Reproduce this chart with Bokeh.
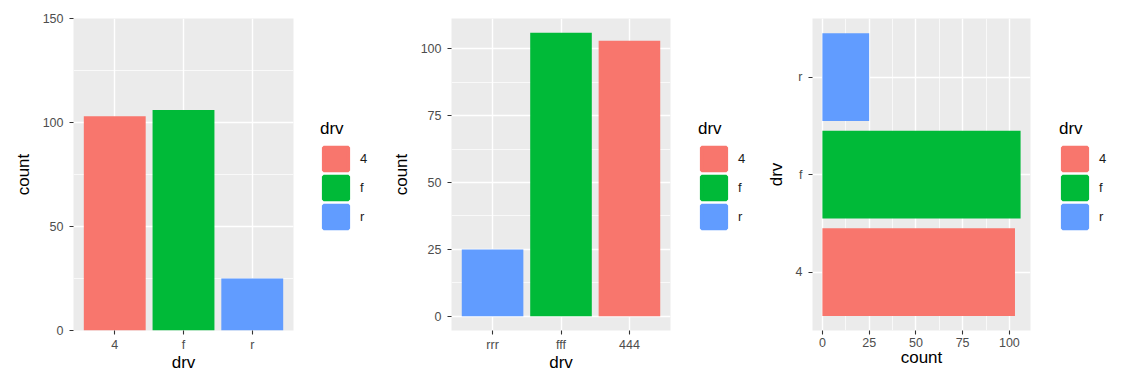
from bokeh.plotting import figure
from bokeh.models import (ColumnDataSource, Range1d, FixedTicker, SingleIntervalTicker,
                          Legend, LegendItem)
from bokeh.layouts import row
from bokeh.embed import file_html
from bokeh.resources import INLINE

# ---- data ----
drv_levels = ["4", "f", "r"]
drv_colors = ["#F8766D", "#00BA38", "#619CFF"]
drv_counts = [103, 106, 25]

# panel 2: relabelled / reordered x axis
p2_labels = ["rrr", "fff", "444"]
p2_drv = ["r", "f", "4"]
p2_counts = [25, 106, 103]

# panel 3: flipped (4 bottom, r top)
p3_levels = ["4", "f", "r"]
p3_counts = [103, 106, 25]

FONT = "Liberation Sans"
color_of = dict(zip(drv_levels, drv_colors))
H = 380


def style(p):
    p.background_fill_color = "#EBEBEB"
    p.border_fill_color = "white"
    p.outline_line_color = None
    for ax in [p.xaxis[0], p.yaxis[0]]:
        ax.axis_line_color = None
        ax.major_tick_line_color = "#333333"
        ax.major_tick_line_width = 1.1
        ax.major_tick_out = 4
        ax.major_tick_in = 0
        ax.minor_tick_line_color = None
        ax.major_label_text_color = "#4D4D4D"
        ax.major_label_text_font = FONT
        ax.major_label_text_font_size = "12.5px"
        ax.axis_label_text_font = FONT
        ax.axis_label_text_font_size = "17px"
        ax.axis_label_text_font_style = "normal"
        ax.axis_label_text_color = "black"
    p.xaxis[0].major_label_standoff = 3
    p.xaxis[0].axis_label_standoff = -2
    p.yaxis[0].major_label_standoff = 6
    p.yaxis[0].axis_label_standoff = 7
    for g in [p.xgrid[0], p.ygrid[0]]:
        g.grid_line_color = "white"
        g.grid_line_width = 1.4
        g.minor_grid_line_color = "white"
        g.minor_grid_line_width = 0.7


def legend_fig(width, src, xcol, idx_of, key_left):
    lf = figure(width=width, height=H, min_border=0,
                x_range=Range1d(-20, -19), y_range=Range1d(0, 200),
                x_axis_location=None, y_axis_location=None,
                output_backend="svg", toolbar_location=None)
    lf.grid.visible = False
    lf.outline_line_color = None
    lf.background_fill_color = "white"
    lf.border_fill_color = "white"
    # degenerate, off-frame copy of the bars, only used to feed the legend keys
    r = lf.vbar(x=xcol, top="count", bottom="count", width=0, fill_color="color",
                line_color="color", line_width=3.4, source=src)
    items = [LegendItem(label=lv, renderers=[r], index=idx_of[lv]) for lv in drv_levels]
    lg = Legend(items=items, title="drv", location=(key_left, 99), orientation="vertical")
    lg.title_text_font = FONT
    lg.title_text_font_size = "17px"
    lg.title_text_font_style = "normal"
    lg.title_text_color = "black"
    lg.title_standoff = 5
    lg.label_text_font = FONT
    lg.label_text_font_size = "13px"
    lg.label_text_color = "#1A1A1A"
    lg.glyph_width = 31
    lg.glyph_height = 29
    lg.label_height = 29
    lg.spacing = 0
    lg.label_standoff = 9
    lg.padding = 0
    lg.margin = 0
    lg.border_line_color = None
    lg.background_fill_color = None
    lf.add_layout(lg)
    return lf


# ---- panel 1 ----
n1 = len(drv_levels)
src1 = ColumnDataSource(dict(x=list(range(1, n1 + 1)), count=drv_counts, color=drv_colors))
p1 = figure(width=303, height=H, min_border_left=73, min_border_right=10,
            min_border_top=18, min_border_bottom=50,
            x_range=Range1d(0.4, n1 + 0.6), y_range=Range1d(0, 150),
            output_backend="svg", toolbar_location=None)
p1.vbar(x="x", top="count", bottom=0, width=0.9, fill_color="color", line_color=None, source=src1)
p1.xaxis.ticker = FixedTicker(ticks=list(range(1, n1 + 1)), minor_ticks=[])
p1.xaxis.major_label_overrides = {i + 1: lv for i, lv in enumerate(drv_levels)}
p1.yaxis.ticker = SingleIntervalTicker(interval=50, num_minor_ticks=2)
p1.xaxis.axis_label = "drv"
p1.yaxis.axis_label = "count"
style(p1)
l1 = legend_fig(82, src1, "x", {lv: i for i, lv in enumerate(drv_levels)}, 17)

# ---- panel 2 ----
n2 = len(p2_labels)
mx2 = max(p2_counts)
src2 = ColumnDataSource(dict(x=list(range(1, n2 + 1)), count=p2_counts,
                             color=[color_of[d] for d in p2_drv]))
p2 = figure(width=295, height=H, min_border_left=66, min_border_right=10,
            min_border_top=18, min_border_bottom=50,
            x_range=Range1d(0.4, n2 + 0.6), y_range=Range1d(-0.05 * mx2, 1.05 * mx2),
            output_backend="svg", toolbar_location=None)
p2.vbar(x="x", top="count", bottom=0, width=0.9, fill_color="color", line_color=None, source=src2)
p2.xaxis.ticker = FixedTicker(ticks=list(range(1, n2 + 1)), minor_ticks=[])
p2.xaxis.major_label_overrides = {i + 1: lb for i, lb in enumerate(p2_labels)}
p2.yaxis.ticker = SingleIntervalTicker(interval=25, num_minor_ticks=2)
p2.xaxis.axis_label = "drv"
p2.yaxis.axis_label = "count"
style(p2)
l2 = legend_fig(77, src2, "x", {d: i for i, d in enumerate(p2_drv)}, 18)

# ---- panel 3 ----
n3 = len(p3_levels)
mx3 = max(p3_counts)
src3 = ColumnDataSource(dict(y=list(range(1, n3 + 1)), count=p3_counts,
                             color=[color_of[d] for d in p3_levels]))
p3 = figure(width=283, height=H, min_border_left=55, min_border_right=10,
            min_border_top=18, min_border_bottom=50,
            y_range=Range1d(0.4, n3 + 0.6), x_range=Range1d(-0.05 * mx3, 1.05 * mx3),
            output_backend="svg", toolbar_location=None)
p3.hbar(y="y", right="count", left=0, height=0.9, fill_color="color", line_color=None, source=src3)
p3.yaxis.ticker = FixedTicker(ticks=list(range(1, n3 + 1)), minor_ticks=[])
p3.yaxis.major_label_overrides = {i + 1: lv for i, lv in enumerate(p3_levels)}
p3.xaxis.ticker = SingleIntervalTicker(interval=25, num_minor_ticks=2)
p3.xaxis.axis_label = "count"
p3.yaxis.axis_label = "drv"
style(p3)
l3 = legend_fig(90, src3, "y", {d: i for i, d in enumerate(p3_levels)}, 19)

layout = row(p1, l1, p2, l2, p3, l3)
open("out.html", "w").write(file_html(layout, INLINE))
